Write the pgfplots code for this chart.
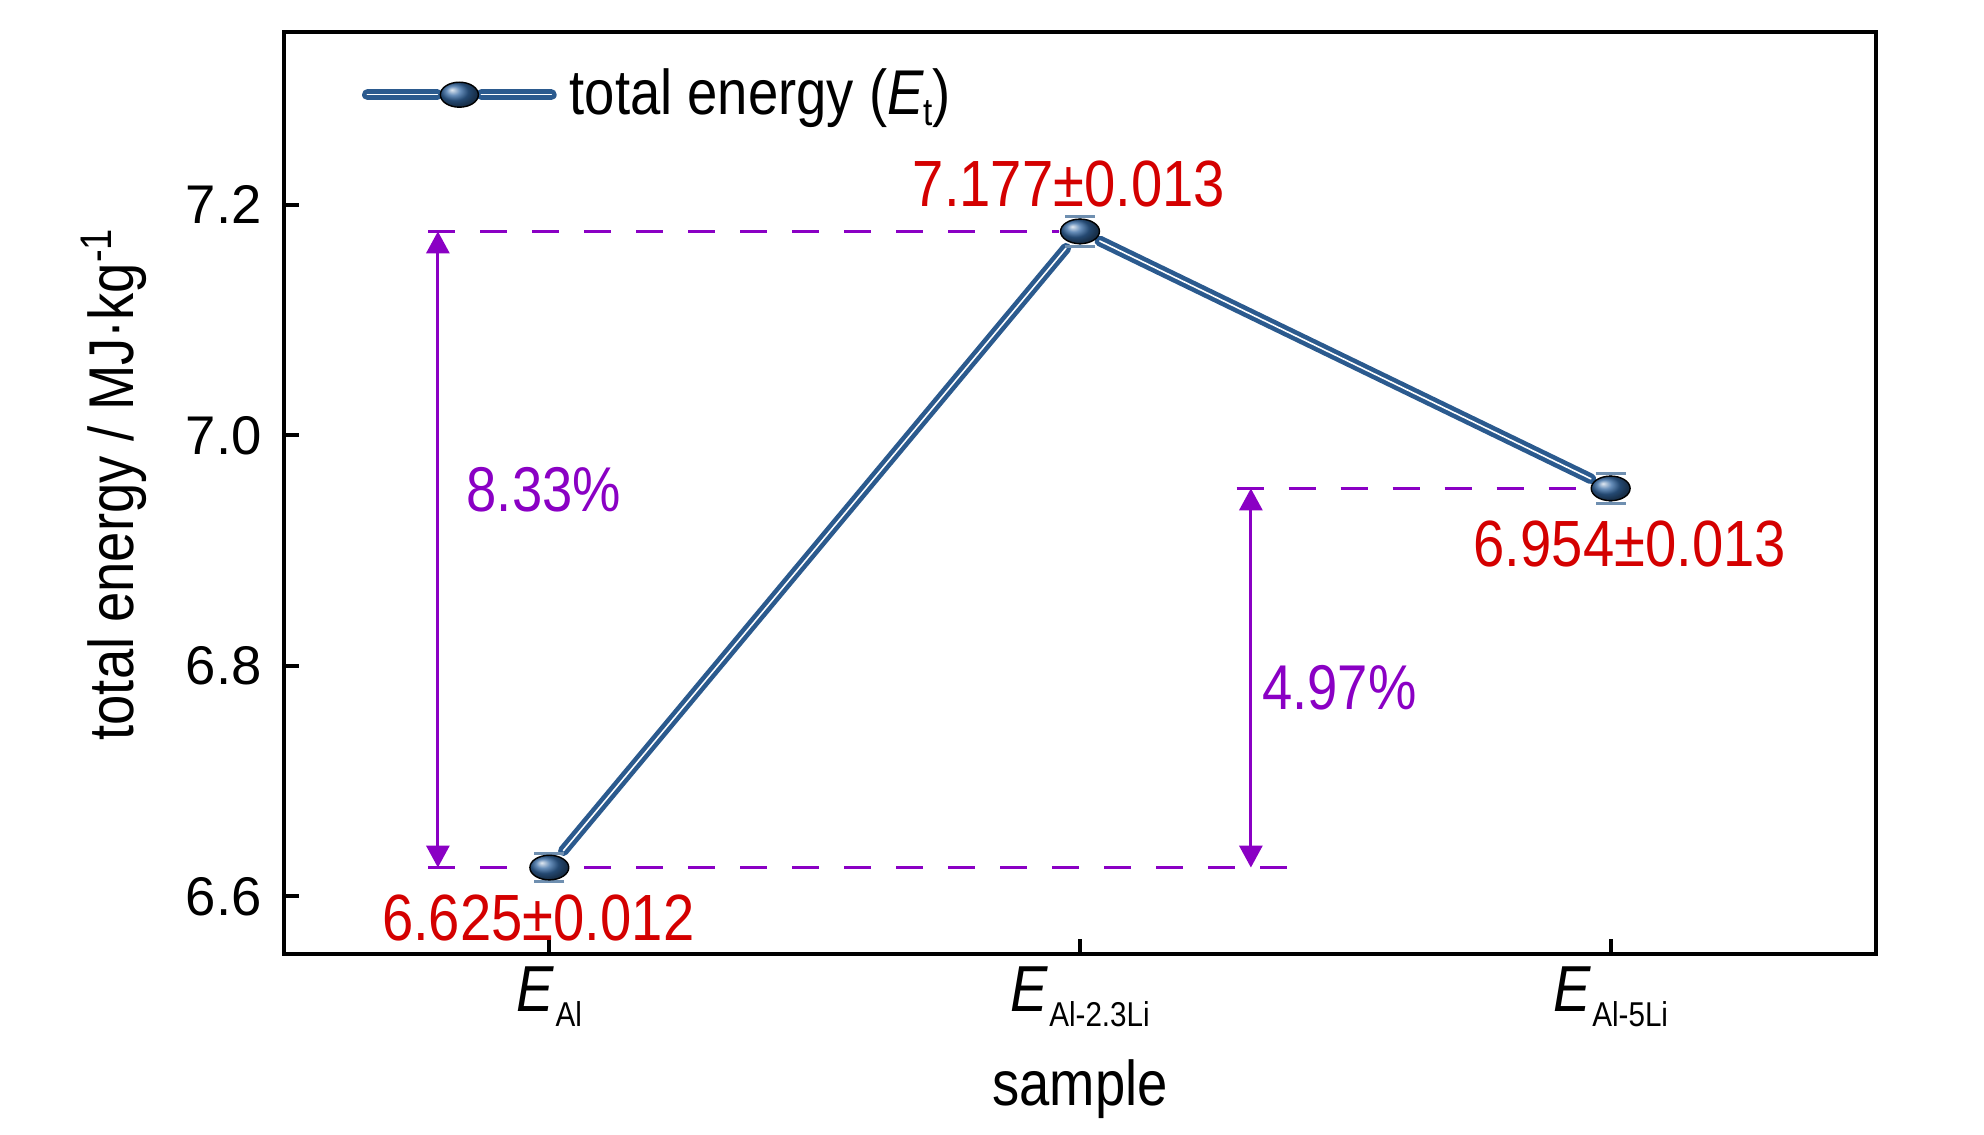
\documentclass[border=0pt]{standalone}
\usepackage{fontspec}
\setmainfont{Liberation Sans}
\newfontfamily\cond[FakeStretch=0.86]{Liberation Sans}
\usepackage{pgfplots}
\pgfplotsset{compat=1.18}
\usetikzlibrary{arrows.meta}
\definecolor{lblue}{HTML}{2B5A8E}
\definecolor{bblue}{HTML}{3468A2}
\definecolor{ered}{HTML}{D40000}
\definecolor{epurple}{HTML}{8A00C4}
\definecolor{errc}{HTML}{6F8FB0}
\newcommand\xE[1]{{\fontsize{18.5}{20}\selectfont\cond\itshape E}\kern0.5pt\raisebox{-4.5pt}{\fontsize{9.8}{11}\selectfont\cond #1}}
\begin{document}
\begin{tikzpicture}
\useasboundingbox (-2.84,-1.80) rectangle (17.00,9.54);
\begin{axis}[
  scale only axis, width=15.92cm, height=9.22cm,
  xmin=-0.5, xmax=2.5, ymin=6.55, ymax=7.35,
  xtick={0,1,2}, xticklabels={{\xE{Al}},{\xE{Al-2.3Li}},{\xE{Al-5Li}}},
  ytick={6.6,6.8,7.0,7.2},
  y tick label style={xshift=-0.1cm, /pgf/number format/.cd, fixed, fixed zerofill, precision=1},
  /pgf/number format/assume math mode=true,
  tick label style={font=\fontsize{15.5}{18}\selectfont},
  axis line style={line width=1.2pt},
  tick style={line width=1.2pt, black},
  tick align=inside, major tick length=0.15cm,
  xtick pos=bottom, ytick pos=left,
  xlabel={sample},
  xlabel style={font=\fontsize{18}{21}\selectfont\cond, at={(axis description cs:0.5,-0.164)}, anchor=base},
  ylabel={total energy / MJ·kg\textsuperscript{-1}},
  ylabel style={font=\fontsize{18}{21}\selectfont\cond, at={(axis description cs:-0.107,0.51)}, anchor=center},
  legend style={at={(axis description cs:0.049,0.932)}, anchor=west, draw=none, fill=none,
    font=\fontsize{18}{21}\selectfont\cond, inner sep=0pt, outer sep=0pt, column sep=0.06cm},
  clip=false,
]
% connecting segments
\addplot[lblue, line width=1.3pt, double=white, double distance=0.45pt, line cap=round,
  shorten <=0.22cm, shorten >=0.22cm, forget plot] coordinates {(0,6.625) (1,7.177)};
\addplot[lblue, line width=1.3pt, double=white, double distance=0.45pt, line cap=round,
  shorten <=0.22cm, shorten >=0.22cm, forget plot] coordinates {(1,7.177) (2,6.954)};
% dashed guide lines
\addplot[epurple, line width=0.9pt, dash pattern=on 0.27cm off 0.25cm, forget plot]
  coordinates {(-0.228,7.177) (0.96,7.177)};
\addplot[epurple, line width=0.9pt, dash pattern=on 0.27cm off 0.25cm, forget plot]
  coordinates {(-0.228,6.625) (1.42,6.625)};
\addplot[epurple, line width=0.9pt, dash pattern=on 0.27cm off 0.25cm, forget plot]
  coordinates {(1.295,6.954) (1.97,6.954)};
% arrows
\addplot[epurple, line width=0.9pt, {Triangle[width=0.23cm,length=0.22cm]}-{Triangle[width=0.23cm,length=0.22cm]}, forget plot]
  coordinates {(-0.21,6.625) (-0.21,7.177)};
\addplot[epurple, line width=0.9pt, {Triangle[width=0.23cm,length=0.22cm]}-{Triangle[width=0.23cm,length=0.22cm]}, forget plot]
  coordinates {(1.322,6.625) (1.322,6.954)};
% markers with error bars
\addplot[only marks, mark=ball, mark size=3.5pt, mark options={ball color=bblue, xscale=1.58},
  error bars/.cd, y dir=both, y explicit,
  error bar style={errc, line width=0.8pt},
  error mark options={rotate=90, errc, mark size=0.15cm, line width=0.8pt},
  ] coordinates {(0,6.625) +- (0,0.012) (1,7.177) +- (0,0.013) (2,6.954) +- (0,0.013)};
\addlegendentry{total energy ({\itshape E}\raisebox{-3pt}{\fontsize{11}{12}\selectfont\cond t})}
\pgfplotsset{legend image code/.code={
  \draw[lblue, line width=1.3pt, double=white, double distance=0.45pt, line cap=round] (0cm,0cm) -- (0.70cm,0cm);
  \draw[lblue, line width=1.3pt, double=white, double distance=0.45pt, line cap=round] (1.14cm,0cm) -- (1.84cm,0cm);
  \shade[ball color=bblue] (0.92cm,0cm) ellipse (0.19cm and 0.125cm);
}}
% labels
\node[ered, font=\fontsize{18.6}{21}\selectfont\cond, inner sep=0pt] at (axis cs:0.979,7.218) {7.177±0.013};
\node[ered, font=\fontsize{18.6}{21}\selectfont\cond, inner sep=0pt] at (axis cs:2.036,6.906) {6.954±0.013};
\node[ered, font=\fontsize{18.6}{21}\selectfont\cond, inner sep=0pt] at (axis cs:-0.021,6.581) {6.625±0.012};
\node[epurple, font=\fontsize{18}{21}\selectfont\cond, inner sep=0pt, anchor=west] at (axis cs:-0.157,6.953) {8.33\%};
\node[epurple, font=\fontsize{18}{21}\selectfont\cond, inner sep=0pt, anchor=west] at (axis cs:1.342,6.781) {4.97\%};
\end{axis}
\end{tikzpicture}
\end{document}
